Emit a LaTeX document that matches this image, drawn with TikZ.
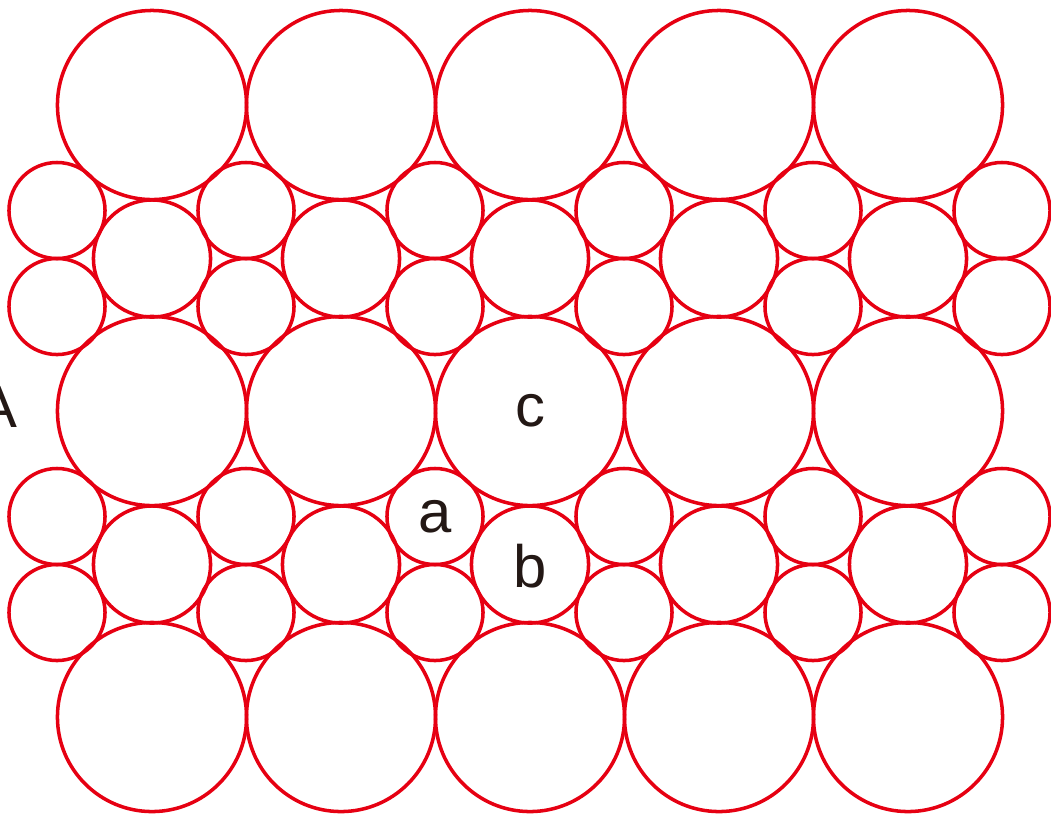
\documentclass[tikz,border=0pt]{standalone}
\usepackage{fontspec}
\setmainfont{Liberation Sans}
\usetikzlibrary{positioning}
\definecolor{RingRed}{RGB}{230,0,18}
\definecolor{LabelInk}{RGB}{35,24,21}

\begin{document}
\begin{tikzpicture}[
    x=0.01cm, y=-0.01cm,
    ring/.style={
        draw=RingRed,
        line width=1pt,
        circle,
        inner sep=0pt,
        outer sep=0pt,
        minimum size=#1
    },
    big/.style={ring=1.89cm},
    mid/.style={ring=1.17cm},
    small/.style={ring=0.96cm},
    lbl/.style={anchor=base, text=LabelInk, font=\fontsize{17}{20}\selectfont}
]
\useasboundingbox (0,0) rectangle (1051,817);

% LARGE CIRCLES
\foreach \j in {0,1,2}
  \foreach \i in {0,...,4}
    \node[big] (L-\i-\j) at ({152+189*\i},{105+306*\j}) {};

% MEDIUM CIRCLES
\foreach \j in {0,1}
  \foreach \i in {0,...,4}
    \node[mid] (M-\i-\j) at ({152+189*\i},{258.5+306*\j}) {};

% SMALL CIRCLES
\foreach \j in {0,1}
  \foreach \i in {0,...,5} {
    \node[small] (S-\i-\j-u) at ({57+189*\i},{210.5+306*\j}) {};
    \node[small] (S-\i-\j-d) at ({57+189*\i},{306.5+306*\j}) {};
  }

% LABELS
\node[lbl] (lc) at (530,426) {c};
\node[lbl] (la) at (435,532) {a};
\node[lbl] (lb) at (530,587) {b};
\node[lbl] (lA) at (-3,427) {A};

\end{tikzpicture}
\end{document}
